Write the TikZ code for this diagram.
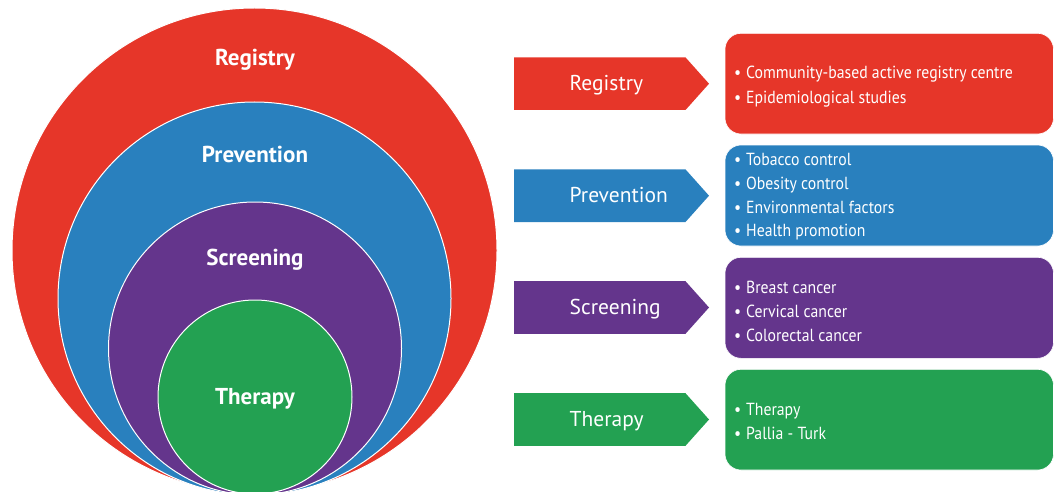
\documentclass[tikz,border=0pt]{standalone}
\usepackage{fontspec}
\setmainfont{PT Sans}
\newfontfamily\narrowfont[FakeStretch=0.9]{PT Sans}
\definecolor{cred}{HTML}{E63629}
\definecolor{cblue}{HTML}{2980BE}
\definecolor{cpurple}{HTML}{64358C}
\definecolor{cgreen}{HTML}{23A152}
\tikzset{
  ring/.style={draw=white, line width=1pt},
  ringlabel/.style={text=white, anchor=base, inner sep=0pt, font=\fontsize{23}{26}\selectfont\bfseries},
  arrowshape/.style={draw=none},
  arrowlabel/.style={text=white, anchor=base west, inner sep=0pt, font=\fontsize{21.5}{24}\selectfont},
  infobox/.style={rounded corners=16pt, draw=white, line width=0.6pt},
  infotext/.style={text=white, anchor=base west, inner sep=0pt, font=\narrowfont\fontsize{17.5}{24}\selectfont}
}
\newcommand{\bul}{\makebox[12pt][l]{\textbullet}}
\begin{document}
\begin{tikzpicture}[x=1pt,y=-1pt]
\useasboundingbox (0,0) rectangle (1054,492);
% nested circles
\fill[cred, ring] (254.5,250.5) circle[radius=242.5pt];
\fill[cblue, ring] (254.5,298.5) circle[radius=196.5pt];
\fill[cpurple, ring] (255,348.5) circle[radius=146.5pt];
\fill[cgreen, ring] (255,397) circle[radius=97pt];
\node[ringlabel] (lreg) at (255,65.7) {Registry};
\node[ringlabel] (lprev) at (255,162.3) {Prevention};
\node[ringlabel] (lscr) at (255,265.7) {Screening};
\node[ringlabel] (lther) at (255,404) {Therapy};
% arrows
\foreach \c/\y/\t/\n in {cred/83.7/Registry/areg, cblue/195.7/Prevention/aprev, cpurple/307.5/Screening/ascr, cgreen/419.5/Therapy/ather}{
  \fill[\c, arrowshape] (514,\y-26.3) -- (685.5,\y-26.3) -- (709,\y) -- (685.5,\y+26.3) -- (514,\y+26.3) -- cycle;
  \node[arrowlabel] (\n) at (569.5,\y+7) {\t};
}
% boxes
\fill[cred, infobox] (725,33.3) rectangle (1053.5,134);
\fill[cblue, infobox] (725,145) rectangle (1053.5,246);
\fill[cpurple, infobox] (725,257.3) rectangle (1053.5,358.3);
\fill[cgreen, infobox] (725,369.3) rectangle (1053.5,470);
\node[infotext] (treg1) at (734,79) {\bul Community-based active registry centre};
\node[infotext] (treg2) at (734,103) {\bul Epidemiological studies};
\node[infotext] (tprev1) at (734,165) {\bul Tobacco control};
\node[infotext] (tprev2) at (734,189) {\bul Obesity control};
\node[infotext] (tprev3) at (734,213) {\bul Environmental factors};
\node[infotext] (tprev4) at (734,236.5) {\bul Health promotion};
\node[infotext] (tscr1) at (734,293) {\bul Breast cancer};
\node[infotext] (tscr2) at (734,317) {\bul Cervical cancer};
\node[infotext] (tscr3) at (734,341) {\bul Colorectal cancer};
\node[infotext] (tther1) at (734,415.5) {\bul Therapy};
\node[infotext] (tther2) at (734,439) {\bul Pallia - Turk};
\end{tikzpicture}
\end{document}
